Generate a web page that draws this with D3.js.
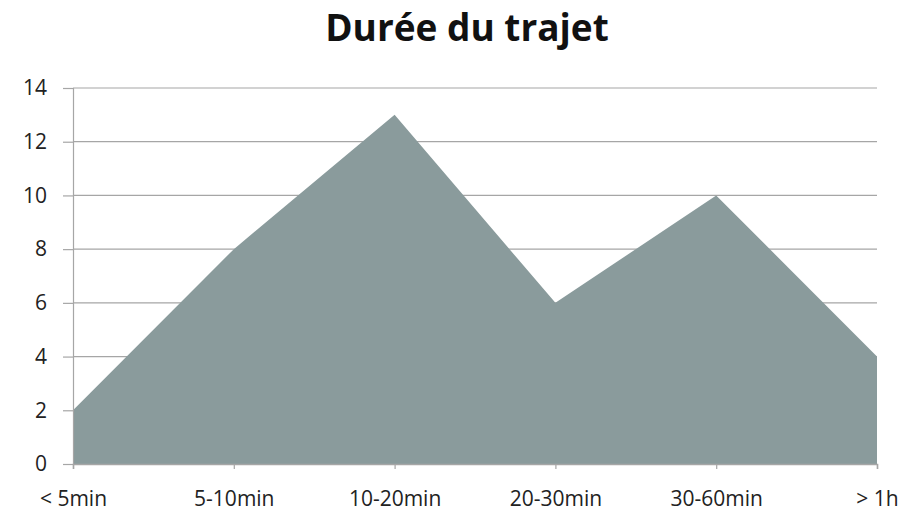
<!DOCTYPE html>
<html>
<head>
<meta charset="utf-8">
<script src="https://cdn.jsdelivr.net/npm/d3@7"></script>
<style>
  body { margin: 0; background: #fff; }
  text { font-family: "Open Sans", "DejaVu Sans", sans-serif; }
</style>
</head>
<body>
<svg id="chart" width="906" height="517"></svg>
<script>
const categories = ['< 5min', '5-10min', '10-20min', '20-30min', '30-60min', '> 1h'];
const values = [2, 8, 13, 6, 10, 4];
const yTicks = [0, 2, 4, 6, 8, 10, 12, 14];

const width = 906, height = 517;
const margin = { top: 88, right: 29, bottom: 53, left: 73 };

const svg = d3.select('#chart');

const x = d3.scalePoint().domain(categories).range([margin.left, width - margin.right]);
const y = d3.scaleLinear().domain([0, 14]).range([height - margin.bottom, margin.top]);

// title
svg.append('text')
    .attr('x', 467).attr('y', 41)
    .attr('text-anchor', 'middle')
    .style('font-size', '37px').style('font-weight', 'bold').style('fill', '#111')
    .text('Durée du trajet');

// gridlines
svg.append('g').selectAll('line').data(yTicks.filter(d => d > 0)).join('line')
    .attr('x1', margin.left).attr('x2', width - margin.right)
    .attr('y1', d => y(d)).attr('y2', d => y(d))
    .attr('stroke', '#a6a6a6').attr('stroke-width', 1.2);

// area
const data = categories.map((c, i) => ({ c, v: values[i] }));
const area = d3.area().x(d => x(d.c)).y0(y(0)).y1(d => y(d.v));
svg.append('path').datum(data).attr('d', area).attr('fill', '#8a9b9c');

// y axis
const yAxis = svg.append('g')
    .attr('transform', `translate(${margin.left},0)`)
    .call(d3.axisLeft(y).tickValues(yTicks).tickSize(10).tickPadding(16));
yAxis.select('.domain').attr('stroke', '#a6a6a6').attr('stroke-width', 1.2);
yAxis.selectAll('.tick line').attr('stroke', '#a6a6a6').attr('stroke-width', 1.2);
yAxis.selectAll('.tick text').style('font-size', '21px').style('fill', '#222');

// x axis
const xAxis = svg.append('g')
    .attr('transform', `translate(0,${y(0)})`)
    .call(d3.axisBottom(x).tickSize(5).tickPadding(22));
xAxis.select('.domain').attr('stroke', '#a6a6a6').attr('stroke-width', 1.5);
xAxis.selectAll('.tick line').attr('stroke', '#a6a6a6').attr('stroke-width', 1.2);
xAxis.selectAll('.tick text').style('font-size', '21px').style('fill', '#222');
</script>
</body>
</html>
